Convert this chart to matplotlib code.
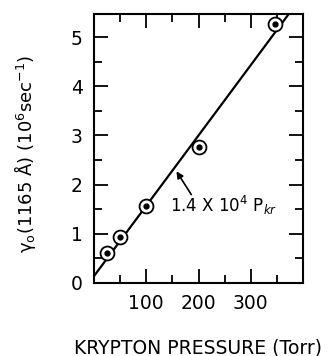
import matplotlib.pyplot as plt
from matplotlib.ticker import MultipleLocator

# Data
pressure = [25, 50, 100, 201, 346]
gamma = [0.62, 0.93, 1.57, 2.77, 5.26]

# Fitted line 1.4 x 10^4 P_kr
fit_p = [0, 380]
fit_g = [0.14, 0.14 + 0.0143 * 380]

fig = plt.figure(figsize=(3.34, 3.56), dpi=100)
ax = fig.add_axes([94 / 334, 1 - 283 / 356, 209 / 334, 269 / 356])

ax.plot(fit_p, fit_g, color='black', linewidth=1.6)
ax.plot(pressure, gamma, linestyle='none', marker='o', markersize=10,
        markerfacecolor='white', markeredgecolor='black', markeredgewidth=1.3)
ax.plot(pressure, gamma, linestyle='none', marker='o', markersize=3.5,
        color='black')

ax.set_xlim(0, 400)
ax.set_ylim(0, 5.47)

ax.xaxis.set_major_locator(MultipleLocator(100))
ax.xaxis.set_minor_locator(MultipleLocator(50))
ax.yaxis.set_major_locator(MultipleLocator(1))
ax.yaxis.set_minor_locator(MultipleLocator(0.5))
ax.tick_params(which='both', direction='in', top=True, right=True,
               width=1.3, labelsize=13.5, pad=8)
ax.tick_params(which='major', length=10)
ax.tick_params(which='minor', length=6)
ax.set_xticks([100, 200, 300])
ax.set_xticklabels(['100', '200', '300'])
for s in ax.spines.values():
    s.set_linewidth(1.5)

# arrow and label for the fitted line
ax.annotate('', xy=(155, 2.32), xytext=(189, 1.75),
            arrowprops=dict(arrowstyle='-|>', color='black', lw=1.2))
ax.text(145, 1.58, '1.4 X 10$^4$ P$_{kr}$', fontsize=12,
        ha='left', va='center')

ax.set_ylabel('$\\mathrm{\\gamma_o}$(1165 Å) (10$^6$sec$^{-1}$)', fontsize=13)
ax.yaxis.set_label_coords(-0.27, 0.48)
ax.set_xlabel('KRYPTON PRESSURE (Torr)', fontsize=13.5)
ax.xaxis.set_label_coords(0.5, -0.205)

fig.savefig('out.png', dpi=100)
